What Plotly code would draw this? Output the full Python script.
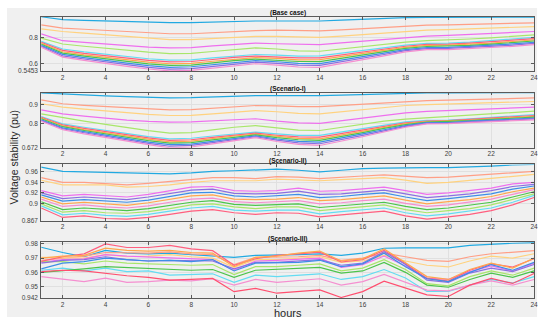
import plotly.graph_objects as go

hours = list(range(1, 25))
x_ticks = list(range(2, 25, 2))

BLUE = '#21a9e1'; SALMON = '#ff9f86'; LORANGE = '#ffd27f'; MAGENTA = '#ee6fee'
LGREEN = '#a8e66a'; CYAN = '#63dcf2'; RED = '#ff5f7f'; ORANGE = '#ffa64d'
GREEN = '#4cc44c'; PURPLE = '#8c6fe0'; PINK = '#f58fd0'; BLUE2 = '#3d8fe6'

titles = ['(Base case)', '(Scenario-I)', '(Scenario-II)', '(Scenario-III)']

# ---------------- Base case ----------------
base_colors = [BLUE, SALMON, LORANGE, MAGENTA, LGREEN, CYAN, RED, ORANGE, GREEN, BLUE2, PURPLE, PINK]
base_case = [
    [.957,.935,.930,.925,.920,.915,.912,.913,.918,.922,.925,.925,.924,.925,.932,.940,.947,.951,.952,.952,.952,.953,.954,.955],
    [.895,.870,.862,.853,.843,.835,.828,.828,.836,.845,.852,.855,.852,.850,.858,.868,.878,.888,.894,.896,.899,.903,.907,.911],
    [.865,.845,.833,.820,.805,.793,.783,.783,.790,.800,.808,.808,.803,.800,.810,.822,.835,.848,.856,.860,.865,.870,.876,.882],
    [.827,.775,.763,.750,.738,.727,.720,.722,.735,.748,.757,.752,.746,.745,.758,.772,.787,.800,.810,.815,.822,.830,.838,.845],
    [.795,.750,.733,.717,.702,.688,.677,.678,.693,.708,.720,.712,.698,.695,.712,.730,.748,.765,.775,.780,.788,.797,.808,.820],
    [.770,.712,.690,.672,.655,.638,.628,.630,.645,.660,.670,.665,.658,.660,.680,.700,.722,.742,.755,.757,.765,.775,.788,.800],
    [.763,.702,.679,.660,.643,.625,.614,.617,.632,.648,.658,.653,.644,.645,.667,.688,.712,.733,.747,.749,.757,.766,.779,.791],
    [.755,.691,.668,.648,.630,.612,.600,.603,.619,.635,.647,.640,.630,.631,.653,.677,.701,.725,.739,.741,.748,.757,.769,.782],
    [.748,.681,.658,.636,.618,.599,.587,.590,.607,.623,.635,.628,.617,.616,.640,.665,.691,.716,.731,.733,.740,.749,.760,.773],
    [.740,.671,.647,.624,.605,.586,.573,.577,.594,.610,.623,.615,.603,.601,.627,.653,.681,.707,.723,.724,.732,.740,.751,.763],
    [.733,.660,.636,.612,.593,.573,.559,.563,.581,.598,.612,.603,.589,.587,.613,.642,.670,.699,.715,.716,.723,.731,.741,.754],
    [.725,.650,.625,.600,.580,.560,.5453,.550,.568,.585,.600,.590,.575,.572,.600,.630,.660,.690,.707,.708,.715,.722,.732,.745],
]

# ---------------- Scenario-I ----------------
s1_colors = [BLUE, SALMON, LORANGE, MAGENTA, LGREEN, CYAN, RED, ORANGE, GREEN, BLUE2, PURPLE, PINK]
scenario_1 = [
    [.961,.955,.950,.946,.942,.938,.935,.936,.940,.944,.947,.947,.946,.947,.950,.954,.958,.961,.962,.962,.962,.963,.963,.963],
    [.925,.904,.896,.889,.882,.876,.872,.873,.880,.888,.895,.893,.889,.889,.896,.903,.910,.917,.921,.923,.926,.929,.932,.935],
    [.904,.886,.876,.866,.856,.848,.842,.843,.851,.860,.868,.862,.853,.851,.862,.873,.884,.895,.900,.903,.906,.910,.913,.916],
    [.872,.851,.839,.828,.818,.811,.807,.808,.815,.821,.825,.812,.803,.801,.814,.828,.841,.856,.864,.868,.873,.878,.882,.886],
    [.851,.830,.812,.795,.778,.762,.749,.752,.766,.780,.789,.776,.765,.763,.780,.798,.812,.823,.830,.834,.842,.850,.858,.865],
    [.837,.798,.780,.763,.747,.731,.719,.722,.734,.746,.754,.745,.737,.737,.755,.774,.792,.808,.816,.818,.825,.833,.840,.847],
    [.833,.793,.774,.757,.740,.724,.711,.714,.727,.740,.749,.738,.729,.728,.747,.767,.786,.803,.813,.815,.822,.829,.836,.842],
    [.829,.788,.768,.750,.733,.717,.703,.707,.720,.734,.744,.732,.721,.719,.738,.759,.780,.799,.810,.812,.818,.825,.832,.838],
    [.825,.783,.763,.744,.727,.710,.696,.699,.713,.728,.740,.725,.714,.711,.730,.752,.774,.794,.807,.809,.815,.822,.828,.833],
    [.820,.777,.757,.738,.720,.702,.688,.691,.706,.722,.735,.718,.706,.702,.722,.745,.767,.789,.804,.805,.812,.818,.823,.828],
    [.816,.772,.751,.731,.713,.695,.680,.684,.699,.716,.730,.712,.698,.693,.713,.737,.761,.785,.801,.802,.808,.814,.819,.824],
    [.812,.767,.745,.725,.706,.688,.672,.676,.692,.710,.725,.705,.690,.684,.705,.730,.755,.780,.798,.799,.805,.810,.815,.819],
]

# ---------------- Scenario-II ----------------
s2_colors = [BLUE, SALMON, LORANGE, MAGENTA, PURPLE, BLUE2, ORANGE, PINK, GREEN, LGREEN, CYAN, RED]
scenario_2 = [
    [.969,.961,.960,.959,.957,.956,.956,.958,.961,.962,.963,.965,.963,.960,.963,.966,.967,.968,.968,.968,.969,.971,.973,.974],
    [.949,.940,.940,.938,.935,.938,.942,.946,.949,.949,.947,.951,.950,.947,.950,.952,.954,.952,.949,.950,.953,.955,.958,.961],
    [.944,.935,.935,.935,.931,.932,.935,.940,.943,.943,.943,.946,.945,.943,.945,.947,.949,.944,.938,.940,.944,.948,.952,.955],
    [.924,.914,.917,.915,.912,.917,.924,.931,.932,.924,.923,.924,.929,.923,.924,.928,.931,.924,.917,.920,.924,.929,.937,.940],
    [.920,.909,.912,.910,.907,.912,.918,.925,.927,.919,.918,.919,.923,.917,.918,.922,.925,.918,.911,.914,.918,.924,.932,.936],
    [.916,.904,.907,.904,.902,.906,.913,.920,.921,.914,.912,.914,.917,.911,.913,.917,.920,.912,.905,.909,.913,.918,.927,.933],
    [.912,.899,.902,.899,.896,.901,.907,.914,.916,.908,.907,.908,.911,.905,.907,.911,.914,.906,.899,.903,.907,.913,.922,.929],
    [.908,.894,.897,.893,.891,.895,.902,.908,.910,.903,.901,.903,.905,.899,.901,.905,.908,.900,.894,.897,.902,.908,.917,.926],
    [.903,.888,.891,.888,.886,.890,.896,.902,.905,.898,.896,.898,.899,.892,.895,.899,.902,.894,.888,.891,.896,.902,.912,.922],
    [.899,.883,.886,.882,.881,.884,.890,.897,.899,.893,.890,.893,.893,.886,.890,.894,.897,.888,.882,.886,.890,.897,.907,.918],
    [.895,.878,.881,.877,.875,.879,.885,.891,.894,.887,.885,.887,.887,.880,.884,.888,.891,.882,.876,.880,.885,.891,.902,.915],
    [.891,.873,.876,.871,.870,.873,.879,.885,.888,.882,.879,.882,.881,.874,.878,.882,.885,.876,.870,.874,.879,.886,.897,.911],
]

# ---------------- Scenario-III ----------------
s3_colors = [BLUE, SALMON, LORANGE, MAGENTA, LGREEN, CYAN, RED, ORANGE, GREEN, PURPLE, PINK, BLUE2, '#ff4f6f']
scenario_3 = [
    [.9777,.974,.971,.9755,.9735,.973,.9735,.9725,.972,.9705,.972,.972,.9725,.973,.972,.9735,.977,.9772,.9772,.9772,.979,.980,.9805,.981],
    [.9685,.970,.9715,.974,.9735,.9735,.9745,.973,.9725,.9655,.9705,.9705,.971,.972,.9685,.970,.9735,.971,.9684,.9677,.971,.9731,.974,.9753],
    [.9705,.9705,.970,.9725,.971,.9715,.9725,.971,.970,.9635,.969,.969,.970,.971,.967,.968,.972,.968,.965,.9638,.968,.9714,.970,.9731],
    [.967,.969,.9695,.9725,.9715,.971,.970,.970,.969,.9615,.968,.9685,.969,.970,.9635,.9655,.9715,.9645,.956,.955,.9605,.9645,.961,.9665],
    [.9675,.9675,.966,.968,.9665,.966,.9655,.965,.9655,.9585,.964,.964,.965,.966,.961,.963,.969,.962,.952,.9505,.957,.961,.958,.963],
    [.9615,.963,.961,.963,.9605,.961,.958,.9585,.959,.953,.958,.957,.958,.959,.955,.957,.962,.956,.9465,.9465,.951,.955,.9525,.957],
    [.9677,.971,.973,.980,.9775,.9775,.979,.9765,.9753,.965,.9696,.972,.973,.9742,.9673,.969,.9755,.966,.9557,.9538,.9615,.966,.9638,.9696],
    [.970,.9715,.972,.977,.9755,.975,.9755,.974,.9735,.964,.9705,.9715,.9735,.975,.968,.9695,.9765,.9665,.957,.955,.962,.9665,.963,.970],
    [.960,.961,.9625,.964,.9635,.9625,.962,.9615,.962,.9565,.9615,.962,.9625,.9635,.9595,.961,.967,.960,.951,.9495,.955,.9595,.9565,.961],
    [.9665,.9685,.969,.971,.969,.968,.9685,.968,.968,.9625,.967,.967,.968,.969,.965,.9665,.9745,.9655,.9545,.953,.9595,.963,.9605,.9655],
    [.957,.9555,.9535,.956,.953,.9535,.9545,.954,.9555,.951,.955,.953,.954,.9555,.951,.9535,.9585,.953,.9475,.947,.951,.954,.951,.955],
    [.9625,.9665,.9675,.970,.969,.968,.9685,.9675,.969,.961,.9665,.9665,.967,.9685,.964,.966,.9735,.964,.9555,.9535,.960,.9655,.9615,.967],
    [.9605,.9615,.961,.9592,.9576,.9565,.9545,.955,.9557,.9464,.9487,.9453,.9465,.9476,.9423,.9464,.9538,.9488,.9441,.943,.951,.9557,.9522,.9592],
]

panels = [
    (base_case, base_colors, [0.5453, 0.957], [0.5453, 0.6, 0.8], ['0.5453', '0.6', '0.8']),
    (scenario_1, s1_colors, [0.672, 0.963], [0.672, 0.8, 0.9], ['0.672', '0.8', '0.9']),
    (scenario_2, s2_colors, [0.867, 0.974], [0.867, 0.9, 0.92, 0.94, 0.96], ['0.867', '0.9', '0.92', '0.94', '0.96']),
    (scenario_3, s3_colors, [0.942, 0.9812], [0.942, 0.95, 0.96, 0.97, 0.98], ['0.942', '0.95', '0.96', '0.97', '0.98']),
]

W, H = 550, 327
# pixel positions of plot areas (top, bottom)
boxes = [(15, 70), (92, 148), (165, 222), (244, 300.5)]
x_left, x_right = 41.5, 538

fig = go.Figure()
FONT = 'Liberation Sans, Arial, sans-serif'
TICKC = '#404040'
layout = dict(
    width=W, height=H, margin=dict(l=0, r=0, t=0, b=0),
    paper_bgcolor='white', plot_bgcolor='white', showlegend=False,
    font=dict(family=FONT, size=6.5, color=TICKC),
)
annotations = []
for i, (series, colors, yr, yt, ytt) in enumerate(panels):
    n = i + 1
    xa = 'x' if n == 1 else f'x{n}'
    ya = 'y' if n == 1 else f'y{n}'
    for s, c in zip(series, colors):
        fig.add_trace(go.Scatter(x=hours, y=s, mode='lines', line=dict(color=c, width=1.2),
                                 xaxis=xa, yaxis=ya, hoverinfo='skip'))
    top, bot = boxes[i]
    ax_common = dict(showline=True, linecolor='#5a5a5a', linewidth=0.8, mirror='ticks',
                     ticks='inside', ticklen=3, tickcolor='#5a5a5a', showgrid=True,
                     gridcolor='#e0e0e0', gridwidth=0.8, zeroline=False,
                     tickfont=dict(family=FONT, size=6.5, color=TICKC))
    layout['xaxis' if n == 1 else f'xaxis{n}'] = dict(
        ax_common, domain=[x_left / W, x_right / W], range=[1, 24], tickvals=x_ticks,
        anchor=ya, ticklabelstandoff=0)
    layout['yaxis' if n == 1 else f'yaxis{n}'] = dict(
        ax_common, domain=[1 - bot / H, 1 - top / H], range=yr, tickvals=yt, ticktext=ytt,
        anchor=xa, ticklabelstandoff=1)
    annotations.append(dict(text=f'<b>{titles[i]}</b>', x=(x_left + x_right) / 2 / W,
                            y=1 - (top - 3.5) / H, xref='paper', yref='paper',
                            showarrow=False, font=dict(family=FONT, size=6.5, color='#111111'),
                            xanchor='center', yanchor='middle'))

annotations.append(dict(text='hours', x=290 / W, y=1 - 316 / H, xref='paper', yref='paper',
                        showarrow=False, font=dict(family=FONT, size=11, color='#262626'),
                        xanchor='center', yanchor='middle'))
annotations.append(dict(text='Voltage stability (pu)', x=14 / W, y=1 - 157 / H, xref='paper',
                        yref='paper', showarrow=False, textangle=-90,
                        font=dict(family=FONT, size=10.5, color='#262626'),
                        xanchor='center', yanchor='middle'))
layout['annotations'] = annotations
layout['shapes'] = [dict(type='rect', xref='paper', yref='paper', x0=7 / W, x1=541 / W,
                         y0=1 - 320 / H, y1=1 - 6 / H, fillcolor='#f0f0f0',
                         line=dict(width=0), layer='below')]
fig.update_layout(**layout)
fig.write_html('out.html', config={'displayModeBar': False},
               post_script="document.body.style.margin='0';document.body.style.padding='0';")
